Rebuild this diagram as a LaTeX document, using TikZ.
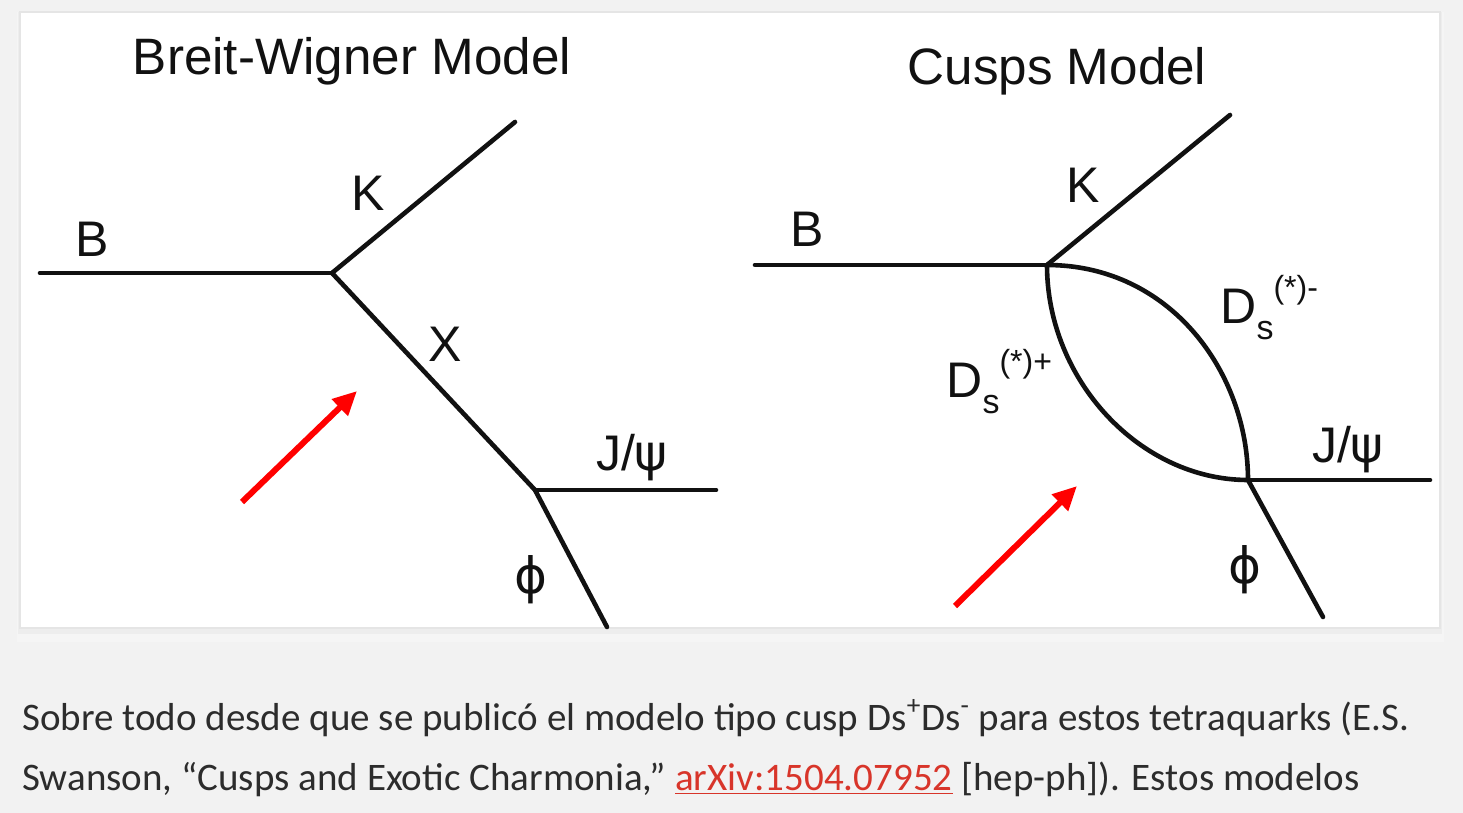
\documentclass[tikz,border=0pt]{standalone}
\usepackage{fontspec}
\setmainfont{Liberation Sans}
\newfontfamily\greekf{DejaVu Sans}
\newfontfamily\capf{Carlito}
\usetikzlibrary{arrows.meta}
\definecolor{pagebg}{HTML}{F2F2F2}
\definecolor{captxt}{HTML}{2C2C2C}
\definecolor{linkred}{HTML}{D8352A}
\definecolor{inkblack}{HTML}{111111}
\begin{document}
\begin{tikzpicture}[x=0.5pt,y=-0.5pt,
  feyn/.style={line width=2.3pt, draw=inkblack, line cap=round},
  lab/.style={font=\fontsize{25}{25}\selectfont, text=inkblack, inner sep=0pt},
  ttl/.style={font=\fontsize{25.6}{26}\selectfont, text=inkblack, inner sep=0pt},
  redarrow/.style={draw=red, line width=3pt, -{Triangle[length=12pt,width=11pt]}},
  captionline/.style={font=\capf\fontsize{19.5}{19.5}\selectfont, text=captxt, inner sep=0pt, anchor=base west}]
\useasboundingbox (0,0) rectangle (1463,813);
\fill[pagebg] (0,0) rectangle (1463,813);
% panel shadow
\fill[black!4] (17,12) rectangle (1444,642);
\fill[black!7] (18,12) rectangle (1442,634);
\fill[white] (20,12) rectangle (1440,628);
\draw[black!10, line width=0.8pt] (20,12) rectangle (1440,628);

% ---------- Breit-Wigner ----------
\node[ttl] (t1) at (352,61) {Breit-Wigner Model};
\coordinate (b1) at (40,273);
\coordinate (v1) at (332,273);
\coordinate (k1) at (515,122);
\coordinate (w1) at (535,490);
\coordinate (j1) at (716,490);
\coordinate (f1) at (607,627);
\draw[feyn] (b1) -- (v1);
\draw[feyn] (v1) -- (k1);
\draw[feyn] (v1) -- (w1);
\draw[feyn] (w1) -- (j1);
\draw[feyn] (w1) -- (f1);
\node[lab] (lb1) at (92,239) {B};
\node[lab] (lk1) at (368,193) {K};
\node[lab] (lx1) at (445,344) {X};
\node[lab] (lj1) at (632,458) {J/{\greekf ψ}};
\node[lab] (lf1) at (531,580) {{\greekf ϕ}};
\coordinate (ra1) at (242,502);
\coordinate (rb1) at (357,391);
\draw[redarrow] (ra1) -- (rb1);

% ---------- Cusps ----------
\node[ttl] (t2) at (1057,71) {Cusps Model};
\coordinate (b2) at (755,265);
\coordinate (v2) at (1047,265);
\coordinate (k2) at (1230,115);
\coordinate (w2) at (1248,480);
\coordinate (j2) at (1430,480);
\coordinate (f2) at (1323,617);
\draw[feyn] (b2) -- (v2);
\draw[feyn] (v2) -- (k2);
\draw[feyn] (v2) .. controls (1170,265) and (1248,372) .. (w2);
\draw[feyn] (v2) .. controls (1047,380) and (1140,480) .. (w2);
\draw[feyn] (w2) -- (j2);
\draw[feyn] (w2) -- (f2);
\node[lab] (lb2) at (807,229) {B};
\node[lab] (lk2) at (1083,185) {K};
\node[lab, anchor=base west] (ldm) at (1220,323)
  {D\raisebox{-0.32em}{\fontsize{17}{17}\selectfont s}\raisebox{0.5em}{\fontsize{16}{16}\selectfont (*)-}};
\node[lab, anchor=base west] (ldp) at (946,397)
  {D\raisebox{-0.32em}{\fontsize{17}{17}\selectfont s}\raisebox{0.5em}{\fontsize{16}{16}\selectfont (*)+}};
\node[lab] (lj2) at (1348,450) {J/{\greekf ψ}};
\node[lab] (lf2) at (1245,570) {{\greekf ϕ}};
\coordinate (ra2) at (955,606);
\coordinate (rb2) at (1077,486);
\draw[redarrow] (ra2) -- (rb2);

% ---------- caption ----------
\node[captionline] (c1) at (22,730) {Sobre todo desde que se publicó el modelo tipo cusp Ds\textsuperscript{+}Ds\textsuperscript{-} para estos tetraquarks (E.S.};
\node[captionline] (c2) at (22,790) {Swanson, “Cusps and Exotic Charmonia,” \textcolor{linkred}{\underline{arXiv:1504.07952}} [hep-ph]). Estos modelos};
\end{tikzpicture}
\end{document}
